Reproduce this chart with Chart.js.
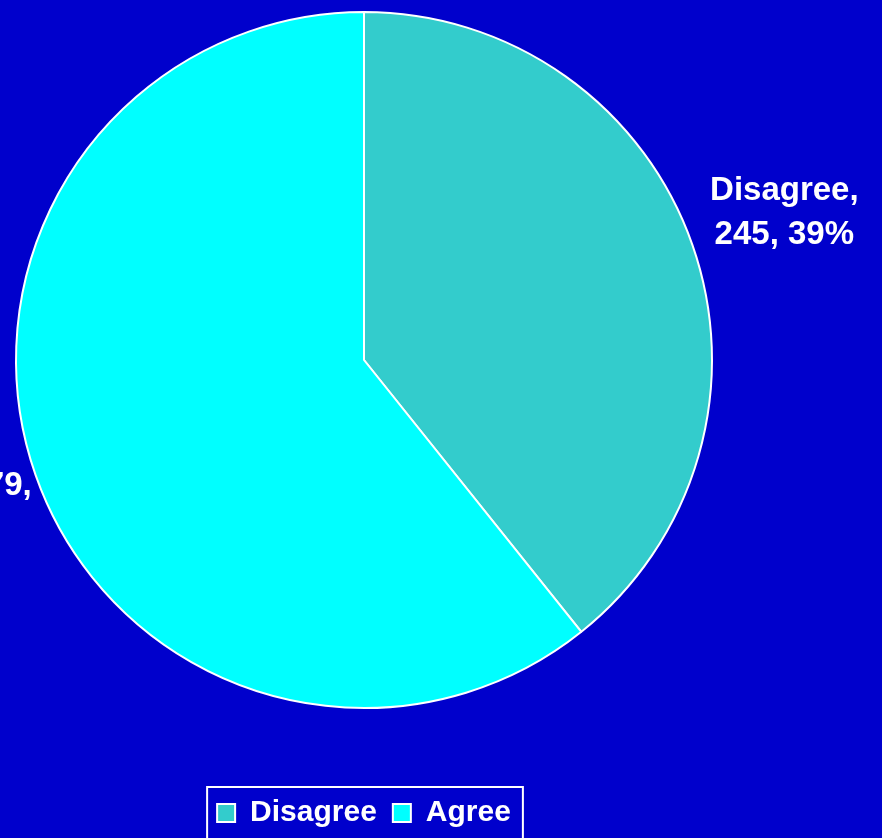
<!DOCTYPE html>
<html>
<head>
<meta charset="utf-8">
<script src="https://cdn.jsdelivr.net/npm/chart.js@4/dist/chart.umd.min.js"></script>
<style>
  html, body { margin: 0; padding: 0; background: #0000CC; overflow: hidden; }
  #page { position: relative; width: 882px; height: 838px; overflow: hidden; }
  /* canvas pushed up a little so pie centre sits where the original is */
  #wrap { position: absolute; left: 0; top: -62px; width: 882px; height: 900px; }
</style>
</head>
<body>
<div id="page"><div id="wrap"><canvas id="pieChart"></canvas></div></div>
<script>
const categories = ['Disagree', 'Agree'];
const counts = [245, 379];
const sliceColors = ['#33CCCC', '#00FFFF'];

const total = counts.reduce((a, b) => a + b, 0);

// wrap "Name, value, pct%" into lines like the original label boxes
function wrapWords(ctx, text, maxW) {
  const words = text.split(' ');
  const lines = [];
  let line = '';
  words.forEach(w => {
    const test = line ? line + ' ' + w : w;
    if (line && ctx.measureText(test).width > maxW) {
      lines.push(line);
      line = w;
    } else {
      line = test;
    }
  });
  if (line) lines.push(line);
  return lines;
}

const sliceLabelPlugin = {
  id: 'sliceLabels',
  afterDatasetsDraw(chart) {
    const ctx = chart.ctx;
    const meta = chart.getDatasetMeta(0);
    ctx.save();
    ctx.font = 'bold 33px "Liberation Sans", Arial, sans-serif';
    ctx.fillStyle = '#FFFFFF';
    ctx.textAlign = 'center';
    ctx.textBaseline = 'middle';
    meta.data.forEach((arc, i) => {
      const p = arc.getProps(['x', 'y', 'startAngle', 'endAngle', 'outerRadius'], true);
      const mid = (p.startAngle + p.endAngle) / 2;
      const dist = p.outerRadius * 1.28;
      const cx = p.x + Math.cos(mid) * dist;
      const cy = p.y + Math.sin(mid) * dist;
      const pct = Math.round(counts[i] / total * 100);
      const lines = wrapWords(ctx, categories[i] + ', ' + counts[i] + ', ' + pct + '%', 185);
      const lh = 44;
      const y0 = cy - (lines.length - 1) * lh / 2;
      lines.forEach((ln, k) => ctx.fillText(ln, cx, y0 + k * lh));
    });
    ctx.restore();
  }
};

const legendFramePlugin = {
  id: 'legendFrame',
  afterDraw(chart) {
    const lg = chart.legend;
    if (!lg || !lg.legendHitBoxes || !lg.legendHitBoxes.length) return;
    const boxes = lg.legendHitBoxes;
    const left = boxes[0].left - 10;
    const last = boxes[boxes.length - 1];
    const right = last.left + last.width + 12;
    const top = lg.top + 5;
    const ctx = chart.ctx;
    ctx.save();
    ctx.strokeStyle = '#FFFFFF';
    ctx.lineWidth = 2;
    ctx.strokeRect(left, top, right - left, 80);
    ctx.restore();
  }
};

const ctx = document.getElementById('pieChart').getContext('2d');
window.myChart = new Chart(ctx, {
  type: 'pie',
  data: {
    labels: categories,
    datasets: [{
      data: counts,
      backgroundColor: sliceColors,
      borderColor: '#FFFFFF',
      borderWidth: 2,
      radius: 348
    }]
  },
  options: {
    responsive: true,
    maintainAspectRatio: false,
    animation: false,
    layout: {
      padding: { left: 0, right: 154, top: 0, bottom: 0 }
    },
    plugins: {
      legend: {
        position: 'bottom',
        fullSize: false,
        labels: {
          color: '#FFFFFF',
          boxWidth: 18,
          boxHeight: 18,
          padding: 16,
          font: { family: '"Liberation Sans", Arial, sans-serif', size: 30, weight: 'bold' }
        }
      },
      tooltip: { enabled: false }
    }
  },
  plugins: [sliceLabelPlugin, legendFramePlugin]
});
</script>
</body>
</html>
